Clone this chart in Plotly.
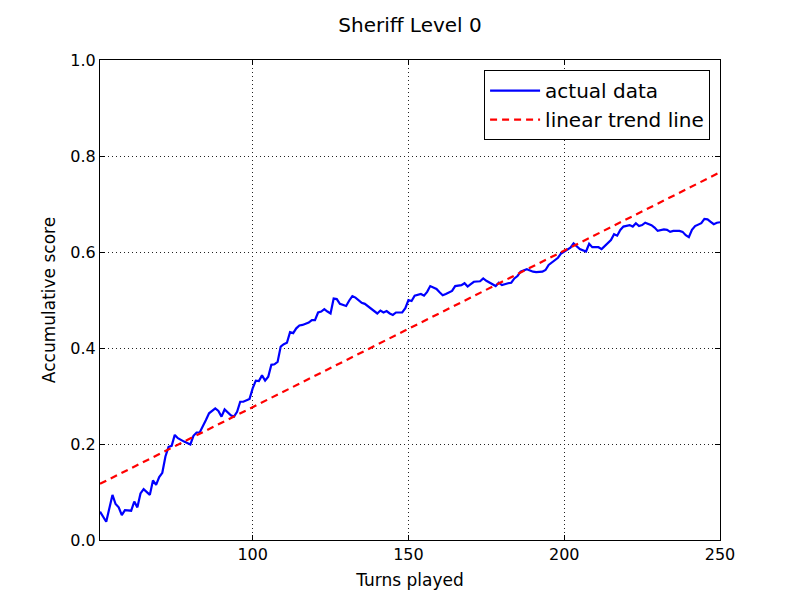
import plotly.graph_objects as go

# ---- data ----
turns = [51, 53, 55, 56, 57, 58, 59, 61, 62, 63, 64, 65, 67, 68, 69, 70, 71, 72, 73, 74,
         75, 76, 78, 80, 81, 82, 83, 84, 85, 86, 88, 89, 90, 91, 93, 94, 95, 96, 97, 99,
         100, 101, 102, 103, 104, 105, 106, 107, 108, 109, 110, 111, 112, 113, 114, 115, 116, 118, 119, 120,
         121, 122, 123, 124, 125, 126, 127, 128, 130, 131, 132, 133, 134, 135, 136, 138, 139, 140, 141, 142,
         143, 144, 145, 146, 148, 149, 150, 151, 152, 153, 154, 155, 156, 157, 159, 160, 161, 162, 164, 165,
         167, 168, 169, 170, 171, 173, 174, 175, 177, 178, 179, 180, 182, 183, 184, 185, 186, 188, 190, 191,
         193, 194, 195, 197, 198, 199, 200, 202, 203, 204, 205, 207, 208, 209, 211, 212, 213, 215, 216, 217,
         218, 219, 221, 222, 223, 224, 225, 226, 228, 229, 230, 232, 233, 234, 235, 237, 238, 239, 240, 241,
         242, 244, 245, 246, 247, 248, 249, 250]
scores = [0.059, 0.038, 0.094, 0.075, 0.068, 0.052, 0.062, 0.061, 0.080, 0.068, 0.097, 0.106, 0.094, 0.124, 0.115, 0.131, 0.140, 0.174, 0.194, 0.196,
          0.219, 0.212, 0.205, 0.199, 0.217, 0.224, 0.224, 0.236, 0.250, 0.264, 0.274, 0.269, 0.257, 0.272, 0.260, 0.257, 0.267, 0.288, 0.288, 0.294,
          0.316, 0.332, 0.331, 0.343, 0.332, 0.340, 0.365, 0.366, 0.371, 0.403, 0.408, 0.411, 0.433, 0.431, 0.441, 0.447, 0.448, 0.453, 0.458, 0.458,
          0.474, 0.476, 0.481, 0.476, 0.472, 0.503, 0.502, 0.492, 0.4875, 0.499, 0.508, 0.505, 0.499, 0.494, 0.492, 0.481, 0.476, 0.472, 0.478, 0.474,
          0.477, 0.472, 0.469, 0.474, 0.474, 0.483, 0.500, 0.498, 0.509, 0.510, 0.5125, 0.509, 0.517, 0.529, 0.523, 0.516, 0.510, 0.5125, 0.519, 0.529,
          0.531, 0.535, 0.528, 0.533, 0.538, 0.539, 0.545, 0.540, 0.533, 0.529, 0.536, 0.531, 0.535, 0.536, 0.545, 0.550, 0.559, 0.564, 0.559, 0.558,
          0.559, 0.5625, 0.573, 0.583, 0.588, 0.597, 0.601, 0.609, 0.618, 0.611, 0.606, 0.601, 0.617, 0.610, 0.610, 0.606, 0.6125, 0.625, 0.637, 0.634,
          0.646, 0.653, 0.656, 0.653, 0.660, 0.654, 0.656, 0.661, 0.656, 0.651, 0.644, 0.647, 0.646, 0.642, 0.644, 0.644, 0.642, 0.635, 0.631, 0.646,
          0.654, 0.660, 0.669, 0.668, 0.663, 0.658, 0.661, 0.662]

trend_turns = [51, 250]
trend_scores = [0.117, 0.766]

x_ticks = [100, 150, 200, 250]
y_ticks = [0.0, 0.2, 0.4, 0.6, 0.8, 1.0]

FONT = "DejaVu Sans"

fig = go.Figure()
fig.add_trace(go.Scatter(x=turns, y=scores, mode="lines", name="actual data",
                         line=dict(color="#0000ff", width=2.2)))
fig.add_trace(go.Scatter(x=trend_turns, y=trend_scores, mode="lines", name="linear trend line",
                         line=dict(color="#ff0000", width=2.2, dash="7px,5px")))

axis_common = dict(
    showline=True, linecolor="black", linewidth=1, mirror="ticks",
    ticks="inside", ticklen=5, tickcolor="black", tickwidth=1,
    showgrid=True, gridcolor="#222222", gridwidth=1, griddash="1px,3px",
    zeroline=False, tickfont=dict(family=FONT, size=16, color="black"),
)

fig.update_xaxes(range=[51, 250], tickvals=x_ticks, ticktext=[str(v) for v in x_ticks],
                 title=dict(text="Turns played", font=dict(family=FONT, size=17, color="black"), standoff=10),
                 **axis_common)
fig.update_yaxes(range=[0, 1], tickvals=y_ticks, ticktext=[f"{v:.1f}" for v in y_ticks],
                 title=dict(text="Accumulative score", font=dict(family=FONT, size=17, color="black"), standoff=10),
                 **axis_common)

fig.update_layout(
    width=800, height=600,
    margin=dict(l=100, r=80, t=60, b=60),
    paper_bgcolor="white", plot_bgcolor="white",
    title=dict(text="Sheriff Level 0", x=0.5125, xanchor="center", y=1 - 25 / 600, yanchor="middle",
               font=dict(family=FONT, size=20, color="black")),
    font=dict(family=FONT, color="black"),
    legend=dict(x=0.984, y=0.979, xanchor="right", yanchor="top",
                bordercolor="black", borderwidth=1, bgcolor="white",
                font=dict(family=FONT, size=20, color="black"),
                itemwidth=50, tracegroupgap=2),
    showlegend=True,
)

fig.write_html("out.html")
